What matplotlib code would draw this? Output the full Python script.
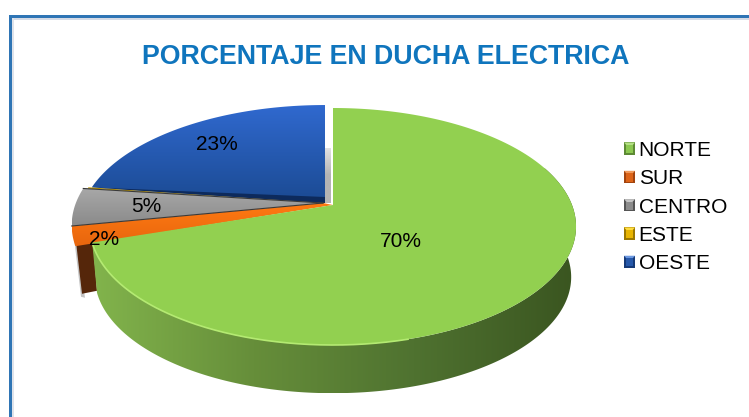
import numpy as np
import matplotlib
matplotlib.use("Agg")
import matplotlib.pyplot as plt
from matplotlib.colors import LinearSegmentedColormap
from matplotlib.legend_handler import HandlerBase
from matplotlib.patches import Polygon, Patch, Rectangle

# ---- data ----
categories = ["NORTE", "SUR", "CENTRO", "ESTE", "OESTE"]
values = [70, 2, 5, 0.2, 22.8]
labels = ["70%", "2%", "5%", "", "23%"]

# ---- style ----
plt.rcParams["font.family"] = ["Liberation Sans", "DejaVu Sans"]
W, H = 749, 417
K = 0.1815          # perspective of the pie plane
A, B = 239.0, 114.6  # half-axes of the pie plane, px
TOP = (333, 205)
BOTTOM = (333, 256)
BOTTOM_SCALE = 0.98
legend_colors = ["#8cc850", "#dd6418", "#8c8c8c", "#e8b400", "#2658aa"]
legend_dark = ["#5d8a35", "#a2440e", "#555555", "#9c7800", "#163a78"]
legend_light = ["#b4e084", "#f09a5c", "#c4c4c4", "#ffdc40", "#6c98e0"]
slice_place = [((333, 205), 1.0), ((323, 203), 1.034), ((323, 203), 1.034),
               ((324, 203), 1.02), ((325, 203), 1.01)]
top_colors = [("#92d050", "#92d050"), ("#ff7a12", "#e8660e"), ("#a8a8a8", "#8a8a8a"),
              ("#c09800", "#907000"), ("#3069cf", "#1b4a92")]
label_xy = [(401, 241), (104, 239), (146, 206), None, (217, 144)]

fig = plt.figure(figsize=(W / 100, H / 100), dpi=100, facecolor="white")
ax = fig.add_axes([0, 0, 1, 1])
ax.set_xlim(0, W)
ax.set_ylim(H, 0)
ax.axis("off")


def rim(t0, t1, center, scale=1.0, n=240):
    """Rim points of the perspective pie between clockwise-from-top degrees."""
    t = np.radians(np.linspace(t0, t1, n))
    d = 1 + K * np.cos(t)
    return np.column_stack([center[0] + scale * A * np.sin(t) / d,
                            center[1] - scale * B * np.cos(t) / d])


def grad(pts, colors, vertical=True, zorder=2.0):
    pts = np.asarray(pts)
    x0, y0 = pts.min(axis=0)
    x1, y1 = pts.max(axis=0)
    cmap = LinearSegmentedColormap.from_list("g", colors)
    g = np.linspace(0, 1, 256)
    arr = g[:, None] if vertical else g[None, :]
    im = ax.imshow(arr, cmap=cmap, extent=(x0, x1, y1, y0), aspect="auto",
                   origin="upper", interpolation="bilinear", zorder=zorder, vmin=0, vmax=1)
    im.set_clip_path(Polygon(pts, closed=True, transform=ax.transData))


class BevelHandler(HandlerBase):
    def create_artists(self, legend, orig, xd, yd, w, h, fs, trans):
        i = orig.get_gid()
        i = int(i)
        x0, y0 = -xd, -yd
        m = (x0 + w / 2, y0 + h / 2)
        inset = w * 0.28
        base = Rectangle((x0, y0), w, h, fc=legend_dark[i], ec="none", transform=trans)
        upper = Polygon([(x0, y0 + h), (x0 + w, y0 + h), m], fc=legend_light[i], ec="none", transform=trans)
        core = Rectangle((x0 + inset * 0.5, y0 + inset * 0.5), w - inset, h - inset * 1.3,
                         fc=legend_colors[i], ec="none", transform=trans)
        return [base, upper, core]


# frame
ax.add_patch(Rectangle((12, 18), W - 12, 2, fc="#d5dbe6", ec="none", zorder=1))
ax.add_patch(Rectangle((12, 18), 2, H - 18, fc="#dfe3ea", ec="none", zorder=1))
ax.add_patch(Rectangle((9, 15), W - 9, 2.5, fc="#2f75b5", ec="none", zorder=1))
ax.add_patch(Rectangle((9, 15), 3, H - 15, fc="#2f75b5", ec="none", zorder=1))

ax.text(386, 57, "PORCENTAJE EN DUCHA ELECTRICA", color="#0f75bd", fontsize=19.3,
        fontweight="bold", ha="center", va="center", zorder=9)

# slice angles
edges = np.concatenate([[0], np.cumsum(values)]) / np.sum(values) * 360

# exploded slices, back to front
for i in [4, 3, 2, 1]:
    c, s = slice_place[i]
    t0, t1 = edges[i], edges[i + 1]
    if i == 4:
        # grey side sliver in the gap and dark cut face
        grad([(c[0], 148), (c[0] + 6, 148), (c[0] + 6, 203), (c[0], 203)],
             ["#e4e4e4", "#b4b4b4", "#b4b4b4"], zorder=1.5)
        p = rim(t0, t0, c, s, n=1)[0]
    if i == 1:
        # soft shadow and outer side of the orange slice
        b = rim(t0, t0, BOTTOM, BOTTOM_SCALE, n=1)[0]
        p0 = rim(t0, t0, c, s, n=1)[0]
        ax.add_patch(Polygon([(p0[0] + 0.5, p0[1]), (p0[0] + 3, p0[1]),
                              (b[0] - 12, b[1] + 5), (b[0] - 16, b[1] + 4)],
                             fc="#c4c4c4", ec="none", zorder=2.4))
        ax.add_patch(Polygon([(p0[0] + 2, p0[1]), (p0[0] + 19, p0[1]),
                              (b[0], b[1] - 2), (b[0] - 15, b[1] + 1)],
                             fc="#55260a", ec="none", zorder=2.6))
        t0 = t0 - 2.0
    pts = np.vstack([[c], rim(t0, t1, c, s)])
    if i == 1:
        # the part under the green top reaches its rim from the left
        pts = np.vstack([[(333, 205)], rim(t0, t1, c, s), [c]])
    grad(pts, top_colors[i], zorder=3)
    if i == 4:
        ax.add_patch(Polygon([p, (c[0], c[1] - 6), c], fc="#0d2a5c", ec="none", zorder=3.5))
    if i in (1, 2):
        r = rim(t1, t1, c, s, n=1)[0]
        ax.plot([c[0], r[0]], [c[1], r[1]], color="#3a3a3a", lw=0.8, zorder=3.6)

# green body: side then top
c_top, s_top = slice_place[0]
front_top = rim(70, edges[1], c_top, s_top)
front_bot = rim(70, edges[1], BOTTOM, BOTTOM_SCALE)
side = np.vstack([front_top, front_bot[::-1]])
grad(side, ["#82b44c", "#668e3a", "#4f7230", "#3a5520"], vertical=False, zorder=4)

top = np.vstack([[TOP], rim(edges[0], edges[1], TOP)])
ax.add_patch(Polygon(top, closed=True, fc="#92d050", ec="none", zorder=5))
hl = rim(165, edges[1], TOP)
ax.plot(hl[:, 0], hl[:, 1], color="#b4ea72", lw=1.2, zorder=5.5)

# percentage labels
for lab, xy in zip(labels, label_xy):
    if xy:
        ax.text(xy[0], xy[1], lab, fontsize=15, color="black", ha="center", va="center", zorder=8)

# legend
handles = [Patch(fc=col, gid=str(n)) for n, col in enumerate(legend_colors)]
ax.legend(handles, categories, loc="upper left", bbox_to_anchor=(624 / W, 1 - 141 / H),
          frameon=False, fontsize=15, handlelength=0.53, handleheight=0.53,
          handletextpad=0.17, labelspacing=0.447, borderpad=0, borderaxespad=0.0,
          handler_map={Patch: BevelHandler()})

ax.set_xlim(0, W)
ax.set_ylim(H, 0)
fig.savefig("out.png", dpi=100)
